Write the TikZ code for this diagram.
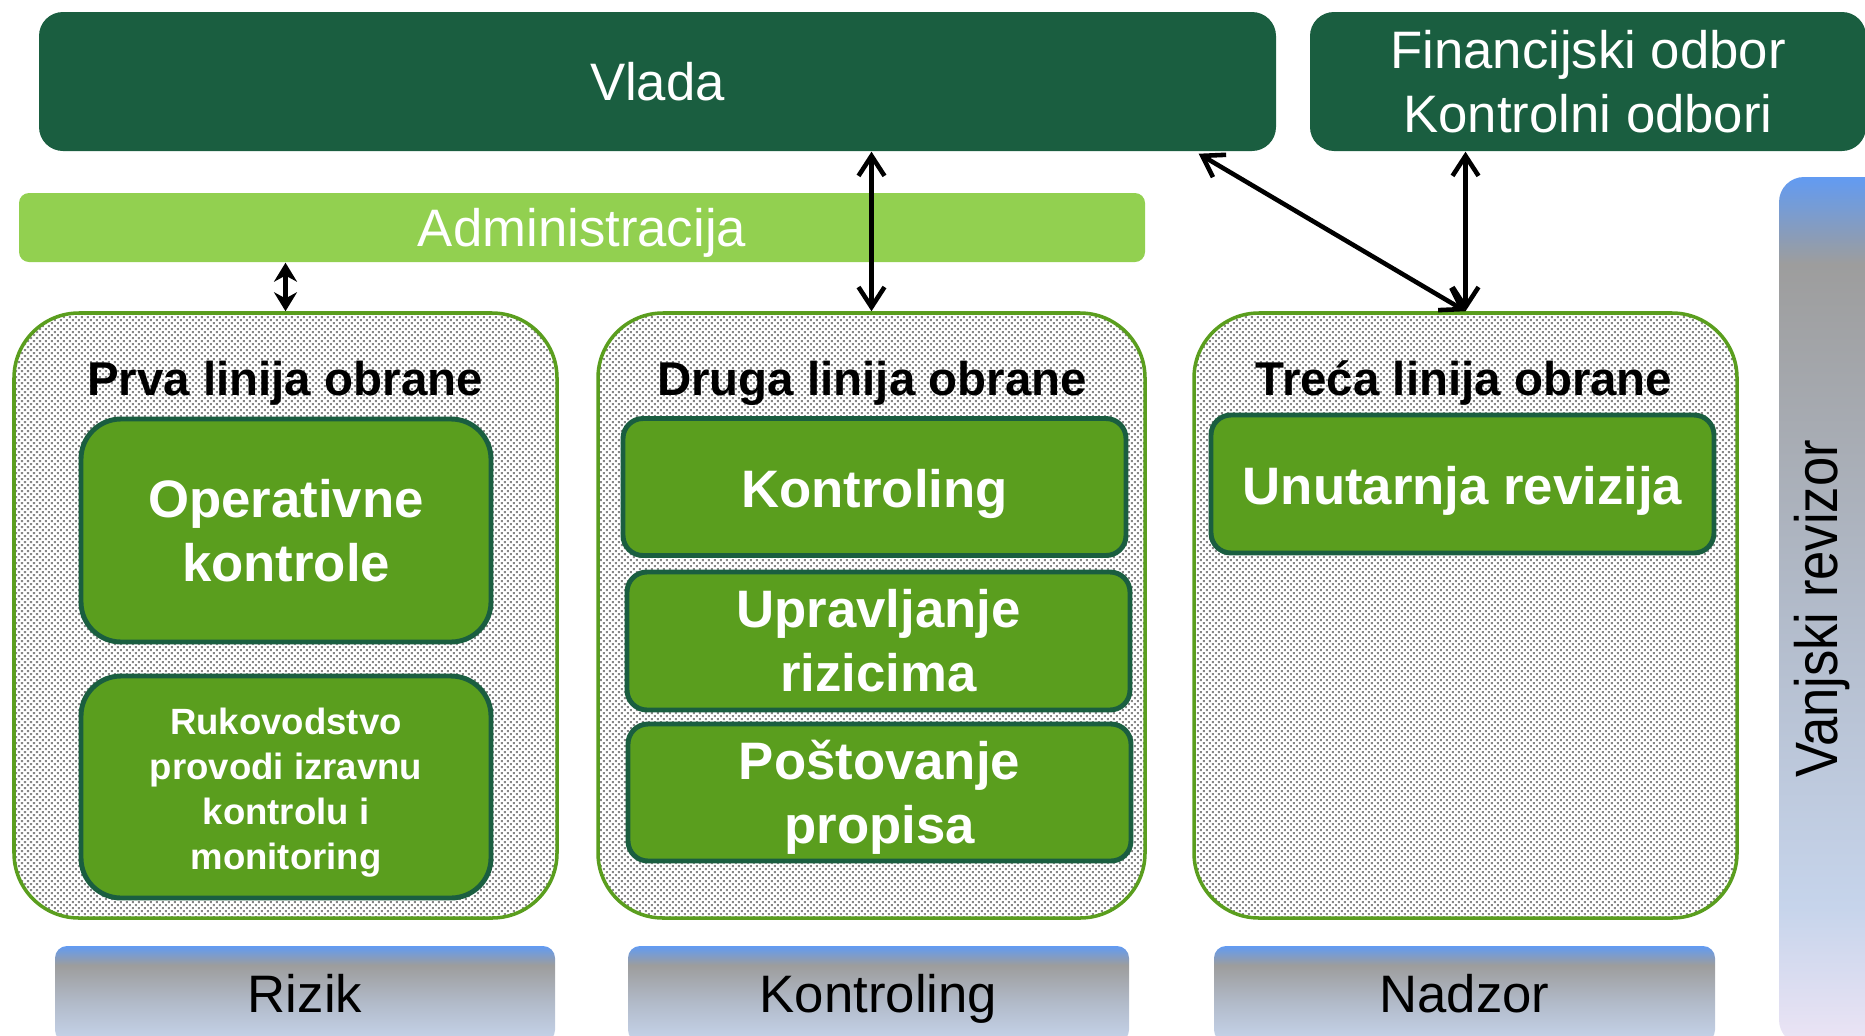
\documentclass[tikz,border=0pt]{standalone}
\usepackage{fontspec}
\setmainfont{Liberation Sans}
\usetikzlibrary{arrows.meta,patterns}
\definecolor{vladagreen}{RGB}{26,94,64}
\definecolor{admgreen}{RGB}{146,208,80}
\definecolor{linegreen}{RGB}{90,158,30}
\definecolor{dotgray}{RGB}{135,135,135}
\definecolor{barblue}{RGB}{98,155,242}
\definecolor{bargray}{RGB}{157,157,157}
\definecolor{barmid}{RGB}{178,187,202}
\definecolor{barlight}{RGB}{198,212,235}
\definecolor{barpink}{RGB}{236,228,245}
\pgfdeclareverticalshading{footshade}{100bp}{color(0bp)=(barlight); color(25bp)=(barlight); color(45bp)=(barmid); color(65bp)=(bargray); color(75bp)=(barblue); color(100bp)=(barblue)}
\pgfdeclareverticalshading{sideshade}{100bp}{color(0bp)=(barpink); color(25bp)=(barpink); color(33bp)=(barlight); color(50bp)=(barmid); color(70bp)=(bargray); color(75bp)=(barblue); color(100bp)=(barblue)}
\pgfdeclarepatternformonly{finedots}{\pgfqpoint{-0.1pt}{-0.1pt}}{\pgfqpoint{1.8pt}{1.8pt}}{\pgfqpoint{1.707pt}{1.707pt}}{%
\pgfpathrectangle{\pgfqpoint{0pt}{0pt}}{\pgfqpoint{0.57pt}{0.57pt}}%
\pgfpathrectangle{\pgfqpoint{0.8535pt}{0.8535pt}}{\pgfqpoint{0.57pt}{0.57pt}}%
\pgfusepath{fill}}
\newcommand{\bigtxt}{\fontsize{15}{18.2}\selectfont}
\newcommand{\midtxt}{\fontsize{13.5}{16}\selectfont\bfseries}
\newcommand{\smalltxt}{\fontsize{10.4}{12.8}\selectfont\bfseries}

\begin{document}
\begin{tikzpicture}[
  topbox/.style={fill=vladagreen, rounded corners=0.24cm, text=white, align=center, font=\bigtxt},
  linebox/.style={draw=linegreen, line width=1pt, rounded corners=0.65cm, pattern=finedots, pattern color=dotgray, minimum width=5.43cm, minimum height=6.05cm},
  unitbox/.style={draw=vladagreen, line width=1.4pt, fill=linegreen, text=white, align=center, font=\bigtxt\bfseries, minimum width=5.03cm, minimum height=1.37cm, rounded corners=0.2cm},
  oneline/.style={text height=11.8pt, text depth=0pt},
  footbar/.style={shading=footshade, rounded corners=0.12cm, minimum width=5.0cm, minimum height=0.96cm, font=\bigtxt, text height=10.7pt, text depth=0pt},
  link/.style={line width=1.3pt, line cap=round, <->, >={Straight Barb[length=2mm,width=2.6mm]}}
]
\useasboundingbox (0,0) rectangle (18.65,10.35);
\clip (0,0) rectangle (18.65,10.35);
\node[topbox, minimum width=12.37cm, minimum height=1.39cm] (vlada) at (6.575, 9.535) {Vlada};
\node[topbox, minimum width=5.56cm, minimum height=1.39cm] (odbor) at (15.88, 9.535) {Financijski odbor\\Kontrolni odbori};
\node[fill=admgreen, rounded corners=0.1cm, text=white, font=\bigtxt, text height=10.7pt, text depth=0pt, minimum width=11.26cm, minimum height=0.69cm] (adm) at (5.82, 8.075) {Administracija};
\node[linebox] (prva) at (2.855, 4.195) {};
\node[linebox, minimum width=5.47cm] (druga) at (8.715, 4.195) {};
\node[linebox] (treca) at (14.655, 4.195) {};
\node[font=\midtxt] (prvatitle) at (2.85, 6.52) {Prva linija obrane};
\node[font=\midtxt] (drugatitle) at (8.72, 6.52) {Druga linija obrane};
\node[font=\midtxt] (trecatitle) at (14.64, 6.52) {Treća linija obrane};
\node[unitbox, minimum width=4.10cm, minimum height=2.23cm, rounded corners=0.4cm] (operativne) at (2.86, 5.045) {Operativne\\kontrole};
\node[unitbox, minimum width=4.10cm, minimum height=2.22cm, rounded corners=0.4cm, font=\smalltxt] (rukovodstvo) at (2.86, 2.48) {\rule{0pt}{11pt}Rukovodstvo\\provodi izravnu\\kontrolu i\\monitoring};
\node[unitbox, oneline] (kontroling) at (8.745, 5.48) {Kontroling};
\node[unitbox, minimum height=1.38cm] (rizici) at (8.785, 3.94) {Upravljanje\\rizicima};
\node[unitbox, inner ysep=0pt] (propisi) at (8.795, 2.425) {\rule{0pt}{13.8pt}Po\smash{š}tovanje\\propisa};
\node[unitbox, oneline, minimum height=1.38cm] (revizija) at (14.625, 5.51) {Unutarnja revizija};
\node[footbar] (rizik) at (3.05, 0.41) {Rizik};
\node[footbar, minimum width=5.01cm] (kontrola) at (8.785, 0.41) {Kontroling};
\node[footbar, minimum width=5.01cm] (nadzor) at (14.645, 0.41) {Nadzor};
\node[shading=sideshade, rounded corners=0.25cm, minimum width=1.21cm, minimum height=8.68cm] (vanjski) at (18.395, 4.24) {};
\node[rotate=90, font=\fontsize{17}{20}\selectfont] (vanjskitxt) at (18.22, 4.26) {\scalebox{0.88}[1]{Vanjski revizor}};
\draw[link, >={Stealth[length=1.9mm,width=2.3mm]}] (prva.north |- adm.south) -- (prva.north);
\draw[link] (druga.north |- vlada.south) -- (druga.north);
\draw[link] ([xshift=-0.78cm, yshift=-0.02cm]vlada.south east) -- (treca.north);
\draw[link] (treca.north |- odbor.south) -- (treca.north);
\end{tikzpicture}
\end{document}
